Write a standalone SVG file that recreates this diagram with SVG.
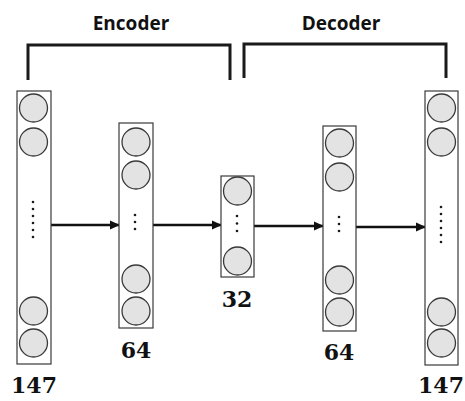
<svg xmlns="http://www.w3.org/2000/svg" width="465" height="401" viewBox="0 0 465 401">
  <style>
    .layer { fill: #ffffff; stroke: #3a3a3a; stroke-width: 1.2; }
    .unit { fill: #e3e3e3; stroke: #3a3a3a; stroke-width: 1.3; }
    .dot { fill: #1a1a1a; }
    .bracket { fill: none; stroke: #1a1a1a; stroke-width: 3; }
    .edge { stroke: #111111; stroke-width: 2.5; fill: none; }
    .title { font-family: "Open Sans", "Liberation Sans", sans-serif; font-weight: bold; font-size: 19px; fill: #111; text-anchor: middle; }
    .size { font-family: "DejaVu Serif", "Liberation Serif", serif; font-weight: bold; font-size: 22px; fill: #111; text-anchor: middle; }
  </style>
  <defs>
    <marker id="arrow" markerWidth="12" markerHeight="12" refX="9" refY="6" orient="auto" markerUnits="userSpaceOnUse">
      <path d="M0,1.5 L10,6 L0,10.5 Z" fill="#111111"/>
    </marker>
  </defs>
  <rect width="465" height="401" fill="#ffffff"/>

  <!-- section brackets -->
  <g id="encoder">
    <path class="bracket" d="M28,80 V45 H230 V80"/>
    <text class="title" x="131" y="30">Encoder</text>
  </g>
  <g id="decoder">
    <path class="bracket" d="M244,78 V44 H446 V78"/>
    <text class="title" x="341" y="30">Decoder</text>
  </g>

  <!-- connectors between layers -->
  <g id="connectors">
    <line class="edge" x1="51" y1="225" x2="119" y2="225" marker-end="url(#arrow)"/>
    <line class="edge" x1="153" y1="225" x2="221" y2="225" marker-end="url(#arrow)"/>
    <line class="edge" x1="254" y1="226" x2="323" y2="226" marker-end="url(#arrow)"/>
    <line class="edge" x1="356" y1="227" x2="425" y2="227" marker-end="url(#arrow)"/>
  </g>

  <!-- input layer: 147 -->
  <g id="input">
    <rect class="layer" x="17" y="91" width="34" height="273"/>
    <circle class="unit" cx="33.5" cy="108" r="14"/>
    <circle class="unit" cx="33.5" cy="142" r="14"/>
    <circle class="unit" cx="33.5" cy="311" r="14"/>
    <circle class="unit" cx="33.5" cy="343" r="14"/>
    <circle class="dot" cx="33" cy="202" r="1.3"/>
    <circle class="dot" cx="33" cy="209" r="1.3"/>
    <circle class="dot" cx="33" cy="216" r="1.3"/>
    <circle class="dot" cx="33" cy="223" r="1.3"/>
    <circle class="dot" cx="33" cy="230" r="1.3"/>
    <circle class="dot" cx="33" cy="237" r="1.3"/>
    <text class="size" x="34" y="393">147</text>
  </g>

  <!-- hidden layer: 64 -->
  <g id="hidden1">
    <rect class="layer" x="119" y="123" width="34" height="205"/>
    <circle class="unit" cx="136" cy="142" r="14"/>
    <circle class="unit" cx="136" cy="175" r="14"/>
    <circle class="unit" cx="136" cy="279" r="14"/>
    <circle class="unit" cx="136" cy="311" r="14"/>
    <circle class="dot" cx="135" cy="215" r="1.3"/>
    <circle class="dot" cx="135" cy="222" r="1.3"/>
    <circle class="dot" cx="135" cy="229" r="1.3"/>
    <text class="size" x="136" y="358">64</text>
  </g>

  <!-- bottleneck: 32 -->
  <g id="code">
    <rect class="layer" x="221" y="176" width="33" height="101"/>
    <circle class="unit" cx="237.5" cy="191" r="14"/>
    <circle class="unit" cx="237.5" cy="261" r="14"/>
    <circle class="dot" cx="237" cy="216" r="1.3"/>
    <circle class="dot" cx="237" cy="223.5" r="1.3"/>
    <circle class="dot" cx="237" cy="231" r="1.3"/>
    <text class="size" x="237" y="307">32</text>
  </g>

  <!-- hidden layer: 64 -->
  <g id="hidden2">
    <rect class="layer" x="323" y="126" width="33" height="205"/>
    <circle class="unit" cx="339.5" cy="143" r="14"/>
    <circle class="unit" cx="339.5" cy="177" r="14"/>
    <circle class="unit" cx="339.5" cy="280" r="14"/>
    <circle class="unit" cx="339.5" cy="312" r="14"/>
    <circle class="dot" cx="339" cy="217" r="1.3"/>
    <circle class="dot" cx="339" cy="224" r="1.3"/>
    <circle class="dot" cx="339" cy="231" r="1.3"/>
    <text class="size" x="339" y="360">64</text>
  </g>

  <!-- output layer: 147 -->
  <g id="output">
    <rect class="layer" x="425" y="91" width="33" height="274"/>
    <circle class="unit" cx="441.5" cy="108" r="14"/>
    <circle class="unit" cx="441.5" cy="142" r="14"/>
    <circle class="unit" cx="441.5" cy="312" r="14"/>
    <circle class="unit" cx="441.5" cy="343" r="14"/>
    <circle class="dot" cx="441" cy="207" r="1.3"/>
    <circle class="dot" cx="441" cy="214" r="1.3"/>
    <circle class="dot" cx="441" cy="221" r="1.3"/>
    <circle class="dot" cx="441" cy="228" r="1.3"/>
    <circle class="dot" cx="441" cy="235" r="1.3"/>
    <circle class="dot" cx="441" cy="242" r="1.3"/>
    <text class="size" x="441" y="393">147</text>
  </g>
</svg>
